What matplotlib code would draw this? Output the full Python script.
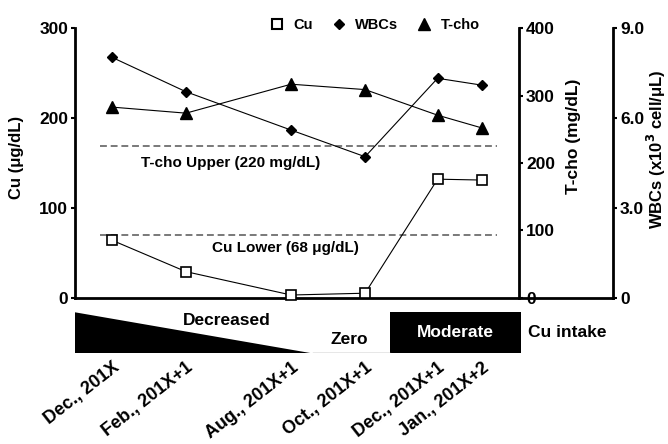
import numpy as np
import matplotlib
matplotlib.use("Agg")
import matplotlib.pyplot as plt
from matplotlib.lines import Line2D
from matplotlib.patches import Polygon, Rectangle

plt.rcParams['font.family'] = ['Liberation Sans', 'DejaVu Sans']
plt.rcParams['font.weight'] = 'bold'

# visit dates, placed on an uneven time axis
dates = ["Dec., 201X", "Feb., 201X+1", "Aug., 201X+1",
         "Oct., 201X+1", "Dec., 201X+1", "Jan., 201X+2"]
xpos = [0, 1, 2.42, 3.42, 4.4, 5.0]

cu = [64, 29, 3, 5, 132, 131]            # ug/dL
tcho = [283, 274, 317, 309, 271, 252]    # mg/dL
wbc = [8.03, 6.88, 5.6, 4.71, 7.33, 7.1]  # x10^3 cell/uL

cu_lower = 70     # drawn line position (labelled 68)
tcho_upper = 225  # drawn line position (labelled 220)

# Cu intake phases along the x axis
decr_start, decr_end = -0.5, 2.71
moderate_start, moderate_end = 3.76, 5.53

W, H = 668, 444
fig = plt.figure(figsize=(W / 100, H / 100), dpi=100)
L, R, T, B = 75, 613, 28.3, 297.7
ax = fig.add_axes([L / W, 1 - B / H, (R - L) / W, (B - T) / H])

xmin = -0.5
xmax = xmin + (R - L) / 74.0
ax.set_xlim(xmin, xmax)
ax.set_ylim(0, 300)

ax2 = ax.twinx()
ax2.set_ylim(0, 400)
ax3 = ax.twinx()
ax3.set_ylim(0, 9)

for a in (ax, ax2, ax3):
    for s in a.spines.values():
        s.set_visible(False)
    a.tick_params(width=1.5, length=3, labelsize=12.5, pad=2)

ax.spines['left'].set_visible(True)
ax.spines['bottom'].set_visible(True)
ax.spines['left'].set_linewidth(2)
ax.spines['bottom'].set_linewidth(2)
ax2.spines['right'].set_visible(True)
ax2.spines['right'].set_position(('data', 5.5))
ax2.spines['right'].set_linewidth(2)
ax3.spines['right'].set_visible(True)
ax3.spines['right'].set_linewidth(2)

ax.set_xticks([])
ax.set_yticks([0, 100, 200, 300])
ax2.set_yticks([0, 100, 200, 300, 400])
ax3.set_yticks([0, 3, 6, 9])
ax3.set_yticklabels(["0", "3.0", "6.0", "9.0"])

ax.set_ylabel("Cu (μg/dL)", fontsize=12, fontweight='bold')
ax.yaxis.set_label_coords(-0.095, 0.52)
ax2.set_ylabel("T-cho (mg/dL)", fontsize=12.5, fontweight='bold')
ax2.yaxis.set_label_coords(0.913, 0.6)
ax3.set_ylabel("WBCs (x10$^\\mathbf{3}$ cell/μL)", fontsize=12, fontweight='bold')
ax3.yaxis.set_label_coords(1.06, 0.55)

# reference lines
ax.plot([-0.16, 5.2], [cu_lower, cu_lower], ls=(0, (4.5, 2.5)), color='#555555', lw=1.1)
ax2.plot([-0.16, 5.2], [tcho_upper, tcho_upper], ls=(0, (4.5, 2.5)), color='#555555', lw=1.1)
ax.text(2.34, 55, "Cu Lower (68 μg/dL)", fontsize=11, ha='center', va='center')
ax.text(1.6, 150, "T-cho Upper (220 mg/dL)", fontsize=11, ha='center', va='center')

ax.plot(xpos, cu, color='black', lw=0.8, marker='s', ms=7.5, mfc='white',
        mec='black', mew=1.2, clip_on=False, zorder=5)
ax3.plot(xpos, wbc, color='black', lw=0.8, marker='D', ms=4.6, mfc='black',
         mec='black', clip_on=False)
ax2.plot(xpos, tcho, color='black', lw=0.8, marker='^', ms=8.5, mfc='black',
         mec='black', clip_on=False)

handles = [Line2D([], [], ls='none', marker='s', ms=7, mfc='white', mec='black', mew=1.5),
           Line2D([], [], ls='none', marker='D', ms=5, color='black'),
           Line2D([], [], ls='none', marker='^', ms=9, color='black')]
ax.legend(handles, ["Cu", "WBCs", "T-cho"], ncol=3, frameon=False, loc='center',
          bbox_to_anchor=(0.555, 1.012), fontsize=10.5, handletextpad=0.5,
          columnspacing=1.1, handlelength=1.3, borderpad=0)

# Cu intake bar
bar_top, bar_bot = 312.3, 353.4
bax = fig.add_axes([L / W, 1 - bar_bot / H, (R - L) / W, (bar_bot - bar_top) / H])
bax.set_xlim(xmin, xmax)
bax.set_ylim(0, 1)
for s in bax.spines.values():
    s.set_visible(False)
bax.set_yticks([])
bax.add_patch(Polygon([[decr_start, 1], [decr_end, 0], [decr_start, 0]],
                      closed=True, color='black', lw=0))
bax.add_patch(Rectangle((moderate_start, 0), moderate_end - moderate_start, 1,
                        color='black', lw=0))
bax.plot([decr_end, moderate_start], [0.01, 0.01], color='#888888', lw=1)
bax.text(1.55, 0.8, "Decreased", fontsize=12.5, ha='center', va='center')
bax.text(3.2, 0.34, "Zero", fontsize=12.5, ha='center', va='center')
bax.text((moderate_start + moderate_end) / 2, 0.5, "Moderate", fontsize=12.5,
         ha='center', va='center', color='white')
bax.text(5.62, 0.5, "Cu intake", fontsize=12.5, ha='left', va='center')

bax.set_xticks(xpos)
bax.set_xticklabels(dates, rotation=38, ha='right', va='top',
                    rotation_mode='anchor', fontsize=13)
bax.tick_params(axis='x', length=0, pad=4)

fig.savefig("out.png", dpi=100)
